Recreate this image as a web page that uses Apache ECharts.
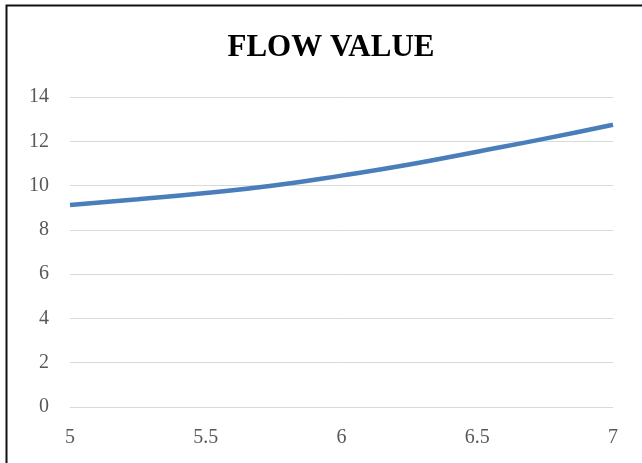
<!DOCTYPE html>
<html>
<head>
<meta charset="utf-8">
<script src="https://cdn.jsdelivr.net/npm/echarts@6/dist/echarts.min.js"></script>
<style>
html,body{margin:0;padding:0;background:#fff;}
#c{width:642px;height:463px;}
</style>
</head>
<body>
<div id="c"></div>
<script>
const titleText = 'FLOW VALUE';
const xValues = [5, 5.25, 5.5, 5.75, 6, 6.25, 6.5, 6.75, 7];
const flowValues = [9.12, 9.38, 9.66, 10.0, 10.45, 10.95, 11.53, 12.12, 12.75];
const yTicks = [0, 2, 4, 6, 8, 10, 12, 14];
const xTicks = [5, 5.5, 6, 6.5, 7];

const chart = echarts.init(document.getElementById('c'));
const serif = '"Liberation Serif", "Times New Roman", serif';
chart.setOption({
  animation: false,
  backgroundColor: '#fff',
  title: {
    text: titleText,
    left: 326, top: 27, textAlign: 'center',
    textStyle: {fontFamily: serif, fontWeight: 'bold', fontSize: 31, color: '#000'}
  },
  graphic: [{
    type: 'rect', left: 4, top: 3, silent: true,
    shape: {width: 660, height: 480},
    style: {fill: 'none', stroke: '#111', lineWidth: 2}
  }],
  grid: {left: 70, right: 29, top: 97, bottom: 56, containLabel: false},
  xAxis: {
    type: 'value', min: xTicks[0], max: xTicks[xTicks.length - 1], interval: 0.5,
    axisLine: {show: false}, axisTick: {show: false}, splitLine: {show: false},
    axisLabel: {fontFamily: serif, fontSize: 20, color: '#595959', margin: 21}
  },
  yAxis: {
    type: 'value', min: yTicks[0], max: yTicks[yTicks.length - 1], interval: 2,
    axisLine: {show: false}, axisTick: {show: false},
    splitLine: {lineStyle: {color: '#d9d9d9', width: 1}},
    axisLabel: {fontFamily: serif, fontSize: 20, color: '#595959', margin: 21}
  },
  series: [{
    type: 'line', smooth: true, showSymbol: false,
    data: xValues.map((x, i) => [x, flowValues[i]]),
    lineStyle: {color: '#4a7ebb', width: 4.5}
  }]
});
</script>
</body>
</html>
